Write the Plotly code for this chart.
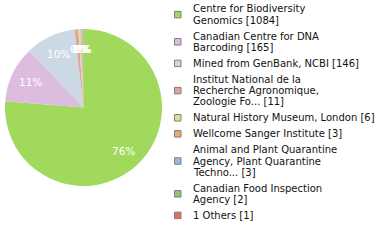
import math
import plotly.graph_objects as go

# Data: specimen records per depositing institution
institutions = [
    "Centre for Biodiversity Genomics",
    "Canadian Centre for DNA Barcoding",
    "Mined from GenBank, NCBI",
    "Institut National de la Recherche Agronomique, Zoologie Fo...",
    "Natural History Museum, London",
    "Wellcome Sanger Institute",
    "Animal and Plant Quarantine Agency, Plant Quarantine Techno...",
    "Canadian Food Inspection Agency",
    "1 Others",
]
counts = [1084, 165, 146, 11, 6, 3, 3, 2, 1]

# Wrapped legend text, one list of lines per institution
legend_lines = [
    ["Centre for Biodiversity", "Genomics [1084]"],
    ["Canadian Centre for DNA", "Barcoding [165]"],
    ["Mined from GenBank, NCBI [146]"],
    ["Institut National de la", "Recherche Agronomique,", "Zoologie Fo... [11]"],
    ["Natural History Museum, London [6]"],
    ["Wellcome Sanger Institute [3]"],
    ["Animal and Plant Quarantine", "Agency, Plant Quarantine", "Techno... [3]"],
    ["Canadian Food Inspection", "Agency [2]"],
    ["1 Others [1]"],
]

colors = ["#a0d95c", "#dcbde0", "#ccd8e4", "#e0a49c", "#d8e09c",
          "#f0a868", "#98b8e0", "#98c070", "#e07058"]

W, H = 380, 240
CX, CY, R = 83.5, 107.5, 78.5   # pie centre and radius in pixels
FONT = "DejaVu Sans"

total = sum(counts)

fig = go.Figure(go.Pie(
    labels=institutions,
    values=counts,
    sort=False,
    direction="clockwise",
    rotation=0,
    marker=dict(colors=colors, line=dict(width=0)),
    textinfo="none",
    hoverinfo="label+value+percent",
    showlegend=False,
    domain=dict(x=[(CX - R) / W, (CX + R) / W],
                y=[1 - (CY + R) / H, 1 - (CY - R) / H]),
))

annotations = []
shapes = []

# Percentage labels placed along each slice's mid-angle
cum = 0
for c in counts:
    mid = (cum + c / 2) / total * 2 * math.pi
    cum += c
    px = CX + 0.75 * R * math.sin(mid)
    py = CY - 0.75 * R * math.cos(mid)
    annotations.append(dict(
        x=px / W, y=1 - py / H, xref="paper", yref="paper",
        text=f"{int(100 * c / total)}%", showarrow=False,
        xanchor="center", yanchor="middle",
        borderpad=0, borderwidth=0,
        font=dict(family=FONT, size=10.5, color="white"),
    ))

# Legend: coloured square centred on each wrapped text block
LINE = 11.2
GAP = 4.8
TOP = 9.0
TEXT_X = 192.5
BOX_X0, BOX_X1 = 174.5, 181.0
y = TOP
for lines, col in zip(legend_lines, colors):
    for i, ln in enumerate(lines):
        ly = y + i * LINE
        annotations.append(dict(
            x=TEXT_X / W, y=1 - ly / H, xref="paper", yref="paper",
            text=ln, showarrow=False, xanchor="left", yanchor="middle",
            borderpad=0, borderwidth=0,
            font=dict(family=FONT, size=10, color="#111111"),
        ))
    cy = y + (len(lines) - 1) * LINE / 2
    shapes.append(dict(
        type="rect", xref="paper", yref="paper",
        x0=BOX_X0 / W, x1=BOX_X1 / W,
        y0=1 - (cy + 3.25) / H, y1=1 - (cy - 3.25) / H,
        fillcolor=col, line=dict(color="#808080", width=1),
    ))
    y += len(lines) * LINE + GAP

fig.update_layout(
    width=W, height=H,
    margin=dict(l=0, r=0, t=0, b=0),
    paper_bgcolor="white", plot_bgcolor="white",
    annotations=annotations, shapes=shapes,
)

fig.write_html("out.html", config={"displayModeBar": False})
